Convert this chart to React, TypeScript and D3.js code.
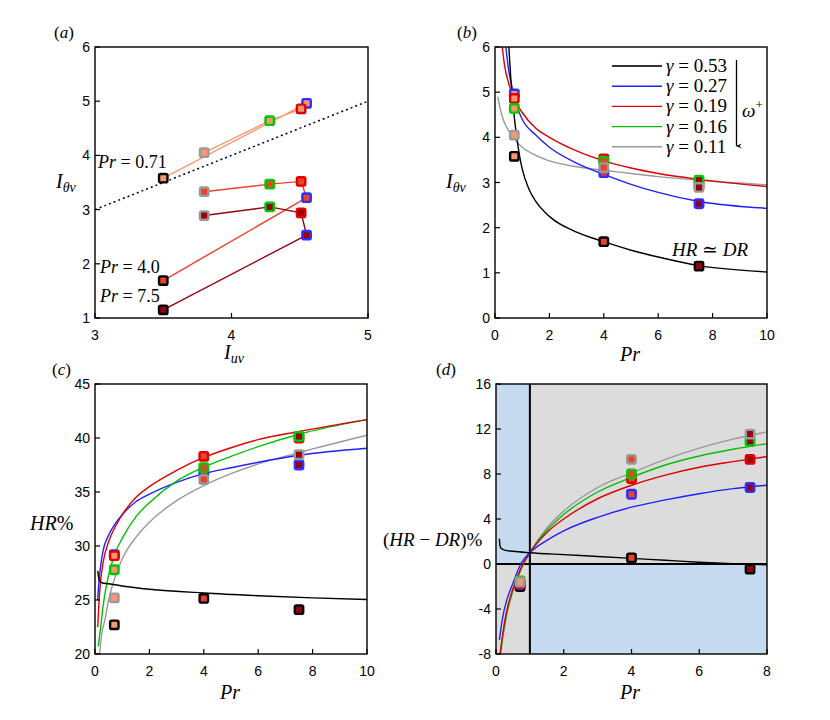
import React from 'react';
import * as d3 from 'd3';

// ---------- data ----------
const GAMMA_LABELS = ['0.53', '0.27', '0.19', '0.16', '0.11'];
const PR_VALUES = [0.71, 4.0, 7.5];
const PR_LABELS = ['0.71', '4.0', '7.5'];

// I_uv per gamma (0.53, 0.27, 0.19, 0.16, 0.11)
const IUV = [3.5, 4.55, 4.51, 4.28, 3.8];

// I_theta_v per gamma at Pr = 0.71, 4.0, 7.5
const ITV_053 = [3.58, 1.69, 1.15];
const ITV_027 = [4.96, 3.22, 2.53];
const ITV_019 = [4.86, 3.52, 2.94];
const ITV_016 = [4.64, 3.47, 3.05];
const ITV_011 = [4.05, 3.33, 2.89];

// HR% per gamma at Pr = 0.71, 4.0, 7.5
const HR_053 = [22.7, 25.15, 24.1];
const HR_027 = [29.2, 36.8, 37.5];
const HR_019 = [29.1, 38.3, 40.0];
const HR_016 = [27.8, 37.25, 40.15];
const HR_011 = [25.2, 36.15, 38.45];

// (HR-DR)% per gamma at Pr = 0.71, 4.0, 7.5
const HD_053 = [-2.0, 0.55, -0.45];
const HD_027 = [-1.8, 6.2, 6.8];
const HD_019 = [-1.75, 7.6, 9.3];
const HD_016 = [-1.5, 8.0, 10.9];
const HD_011 = [-1.6, 9.3, 11.55];

// fitted curves, panel (b)
const B_BLACK_PR = [0.5, 0.6, 0.7, 0.8, 0.9, 1.0, 1.25, 1.5, 2, 3, 4, 5, 6, 7.5, 10];
const B_BLACK_V = [6.1, 5.15, 4.5, 4.0, 3.6, 3.3, 2.85, 2.58, 2.25, 1.9, 1.69, 1.5, 1.35, 1.16, 1.02];
const B_BLUE_PR = [0.38, 0.5, 0.67, 0.8, 1.0, 1.5, 2, 3, 4, 5, 6, 7.5, 10];
const B_BLUE_V = [6.1, 5.5, 5.0, 4.7, 4.4, 4.05, 3.78, 3.43, 3.18, 2.96, 2.78, 2.58, 2.43];
const B_RED_PR = [0.25, 0.35, 0.5, 0.71, 1, 1.5, 2, 3, 4, 5, 6, 7.5, 10];
const B_RED_V = [6.1, 5.6, 5.2, 4.85, 4.55, 4.2, 4.0, 3.7, 3.48, 3.32, 3.2, 3.07, 2.91];
const B_GRAY_PR = [0.1, 0.2, 0.3, 0.5, 0.7, 1, 1.5, 2, 3, 4, 5, 6, 7.5, 10];
const B_GRAY_V = [4.9, 4.62, 4.4, 4.15, 3.97, 3.78, 3.6, 3.48, 3.35, 3.27, 3.2, 3.13, 3.05, 2.95];

// fitted curves, panel (c)
const C_BLACK_PR = [0.1, 0.14, 0.2, 0.25, 0.5, 1, 2, 4, 6, 8, 10];
const C_BLACK_V = [27.7, 27.0, 26.7, 26.6, 26.5, 26.3, 26.0, 25.65, 25.4, 25.2, 25.05];
const C_BLUE_PR = [0.1, 0.15, 0.2, 0.3, 0.5, 0.75, 1, 1.5, 2, 3, 4, 5, 6, 7.5, 10];
const C_BLUE_V = [25.0, 26.9, 28.0, 29.6, 31.0, 32.1, 32.9, 34.1, 34.8, 35.9, 36.7, 37.25, 37.75, 38.4, 39.05];
const C_RED_PR = [0.1, 0.15, 0.2, 0.3, 0.5, 0.75, 1, 1.5, 2, 3, 4, 5, 6, 7.5, 10];
const C_RED_V = [22.5, 25.0, 26.6, 28.5, 30.4, 31.8, 32.9, 34.5, 35.5, 37.0, 38.2, 39.1, 39.85, 40.6, 41.7];
const C_GREEN_PR = [0.12, 0.2, 0.3, 0.5, 0.75, 1, 1.5, 2, 3, 4, 5, 6, 7.5, 10];
const C_GREEN_V = [20.7, 22.3, 24.5, 27.3, 29.4, 30.7, 32.7, 34.0, 36.0, 37.3, 38.3, 39.2, 40.35, 41.7];
const C_GRAY_PR = [0.17, 0.25, 0.37, 0.5, 0.75, 1, 1.5, 2, 3, 4, 5, 6, 7.5, 10];
const C_GRAY_V = [20.0, 21.9, 23.2, 25.0, 27.2, 28.8, 30.8, 32.2, 34.2, 35.6, 36.7, 37.6, 38.65, 40.25];

// fitted curves, panel (d)
const D_BLACK_PR = [0.1, 0.11, 0.13, 0.17, 0.25, 0.5, 1, 2, 3, 4, 5, 6, 7, 8];
const D_BLACK_V = [2.25, 1.8, 1.5, 1.35, 1.24, 1.13, 1.0, 0.83, 0.67, 0.5, 0.33, 0.16, 0.03, -0.07];
const D_BLUE_PR = [0.1, 0.2, 0.3, 0.5, 0.75, 1, 1.5, 2, 3, 4, 5, 6, 7, 8];
const D_BLUE_V = [-6.75, -4.7, -3.4, -1.7, 0.1, 1.0, 2.1, 2.95, 4.15, 5.05, 5.7, 6.25, 6.7, 7.0];
const D_RED_PR = [0.12, 0.2, 0.3, 0.5, 0.75, 1, 1.5, 2, 3, 4, 5, 6, 7, 8];
const D_RED_V = [-8.0, -6.2, -4.4, -2.2, -0.3, 1.0, 2.8, 4.0, 5.8, 7.0, 7.9, 8.6, 9.1, 9.55];
const D_GREEN_PR = [0.13, 0.2, 0.3, 0.5, 0.75, 1, 1.5, 2, 3, 4, 5, 6, 7, 8];
const D_GREEN_V = [-8.0, -6.4, -4.6, -2.3, -0.35, 1.0, 3.0, 4.4, 6.4, 7.7, 8.8, 9.6, 10.2, 10.7];
const D_GRAY_PR = [0.14, 0.2, 0.3, 0.5, 0.75, 1, 1.5, 2, 3, 4, 5, 6, 7, 8];
const D_GRAY_V = [-8.0, -6.6, -4.8, -2.4, -0.4, 1.0, 3.2, 4.7, 6.8, 8.1, 9.3, 10.3, 11.1, 11.75];

// ticks
const A_XTICKS = [3, 4, 5];
const A_YTICKS = [1, 2, 3, 4, 5, 6];
const B_XTICKS = [0, 2, 4, 6, 8, 10];
const B_YTICKS = [0, 1, 2, 3, 4, 5, 6];
const C_XTICKS = [0, 2, 4, 6, 8, 10];
const C_YTICKS = [20, 25, 30, 35, 40, 45];
const D_XTICKS = [0, 2, 4, 6, 8];
const D_YTICKS = [-8, -4, 0, 4, 8, 12, 16];

// ---------- style ----------
const EDGE_COLORS = ['#000000', '#2f2fff', '#e00000', '#00c800', '#9a9a9a'];
const CURVE_COLORS = ['#000000', '#2020ff', '#dd0000', '#00c000', '#999999'];
const PR_FILLS = ['#fa9673', '#ec412d', '#98000f'];

type Box = { l: number; r: number; t: number; b: number };
type Lin = d3.ScaleLinear<number, number>;

const ITV = [ITV_053, ITV_027, ITV_019, ITV_016, ITV_011];
const HR = [HR_053, HR_027, HR_019, HR_016, HR_011];
const HD = [HD_053, HD_027, HD_019, HD_016, HD_011];

const serifStyle: React.CSSProperties = { fontFamily: "'Liberation Serif', 'DejaVu Serif', serif" };
const sansStyle: React.CSSProperties = { fontFamily: "'Liberation Sans', Arial, sans-serif" };

function zip(xs: number[], ys: number[]): [number, number][] {
  return xs.map((x, i) => [x, ys[i]] as [number, number]);
}

function Axes({ box, x, y, xticks, yticks }: { box: Box; x: Lin; y: Lin; xticks: number[]; yticks: number[] }) {
  const tl = 5;
  return (
    <g>
      <rect x={box.l} y={box.t} width={box.r - box.l} height={box.b - box.t} fill="none" stroke="#000" strokeWidth={1.4} />
      {xticks.map((v) => (
        <g key={'x' + v}>
          <line x1={x(v)} x2={x(v)} y1={box.b} y2={box.b - tl} stroke="#000" strokeWidth={1.2} />
          <text x={x(v)} y={box.b + 22} textAnchor="middle" style={sansStyle} fontSize={14} fill="#000">{String(v)}</text>
        </g>
      ))}
      {yticks.map((v) => (
        <g key={'y' + v}>
          <line x1={box.l} x2={box.l + tl} y1={y(v)} y2={y(v)} stroke="#000" strokeWidth={1.2} />
          <text x={box.l - 5} y={y(v) + 5} textAnchor="end" style={sansStyle} fontSize={14} fill="#000">{String(v)}</text>
        </g>
      ))}
    </g>
  );
}

function Marker({ cx, cy, edge, fill }: { cx: number; cy: number; edge: string; fill: string }) {
  const s = 8.4;
  return <rect x={cx - s / 2} y={cy - s / 2} width={s} height={s} rx={1.6} fill={fill} stroke={edge} strokeWidth={2.4} />;
}

function Curve({ x, y, xs, ys, color, width = 1.4 }: { x: Lin; y: Lin; xs: number[]; ys: number[]; color: string; width?: number }) {
  const gen = d3.line<[number, number]>().x((d) => x(d[0])).y((d) => y(d[1])).curve(d3.curveMonotoneX);
  return <path d={gen(zip(xs, ys)) || ''} fill="none" stroke={color} strokeWidth={width} />;
}

function PanelLabel({ x, y, letter }: { x: number; y: number; letter: string }) {
  return (
    <text x={x} y={y} style={serifStyle} fontSize={17} fill="#000">
      (<tspan fontStyle="italic">{letter}</tspan>)
    </text>
  );
}

function Clip({ id, box }: { id: string; box: Box }) {
  return (
    <clipPath id={id}>
      <rect x={box.l} y={box.t} width={box.r - box.l} height={box.b - box.t} />
    </clipPath>
  );
}

export default function App() {
  const boxA: Box = { l: 95, r: 368, t: 47, b: 318 };
  const boxB: Box = { l: 495, r: 767, t: 47, b: 318 };
  const boxC: Box = { l: 95, r: 367, t: 384, b: 654 };
  const boxD: Box = { l: 496, r: 767, t: 384, b: 654 };

  const xA = d3.scaleLinear().domain([3, 5]).range([boxA.l, boxA.r]);
  const yA = d3.scaleLinear().domain([1, 6]).range([boxA.b, boxA.t]);
  const xB = d3.scaleLinear().domain([0, 10]).range([boxB.l, boxB.r]);
  const yB = d3.scaleLinear().domain([0, 6]).range([boxB.b, boxB.t]);
  const xC = d3.scaleLinear().domain([0, 10]).range([boxC.l, boxC.r]);
  const yC = d3.scaleLinear().domain([20, 45]).range([boxC.b, boxC.t]);
  const xD = d3.scaleLinear().domain([0, 8]).range([boxD.l, boxD.r]);
  const yD = d3.scaleLinear().domain([-8, 16]).range([boxD.b, boxD.t]);

  const gOrder = [0, 1, 2, 3, 4];
  const lineA = d3.line<[number, number]>().x((d) => xA(d[0])).y((d) => yA(d[1]));

  const scatter = (x: Lin, y: Lin, vals: number[][]) =>
    gOrder.map((g) =>
      PR_VALUES.map((pr, p) => (
        <Marker key={g + '-' + p} cx={x(pr)} cy={y(vals[g][p])} edge={EDGE_COLORS[g]} fill={PR_FILLS[p]} />
      ))
    );

  const legendRows = GAMMA_LABELS.map((lab, i) => ({ lab, i }));

  return (
    <svg width={830} height={720} viewBox="0 0 830 720" style={{ position: 'absolute', left: 0, top: 0, background: '#fff' }}>
      <defs>
        <Clip id="clipA" box={boxA} />
        <Clip id="clipB" box={boxB} />
        <Clip id="clipC" box={boxC} />
        <Clip id="clipD" box={boxD} />
        <marker id="arrowHead" viewBox="0 0 10 10" refX={5} refY={9} markerWidth={6} markerHeight={10} orient="auto-start-reverse" markerUnits="userSpaceOnUse">
          <path d="M1,0 L5,10 L9,0 L5,4 Z" fill="#000" />
        </marker>
      </defs>
      <rect x={0} y={0} width={830} height={720} fill="#fff" />

      {/* ---------------- panel (a) ---------------- */}
      <g clipPath="url(#clipA)">
        <line x1={xA(3)} y1={yA(3)} x2={xA(5)} y2={yA(5)} stroke="#000" strokeWidth={1.5} strokeDasharray="2,3" />
        {PR_VALUES.map((pr, p) => (
          <path key={'la' + p} d={lineA(gOrder.map((g) => [IUV[g], ITV[g][p]] as [number, number])) || ''} fill="none" stroke={PR_FILLS[p]} strokeWidth={1.4} />
        ))}
        {gOrder.map((g) =>
          PR_VALUES.map((pr, p) => (
            <Marker key={'ma' + g + p} cx={xA(IUV[g])} cy={yA(ITV[g][p])} edge={EDGE_COLORS[g]} fill={PR_FILLS[p]} />
          ))
        )}
      </g>
      <Axes box={boxA} x={xA} y={yA} xticks={A_XTICKS} yticks={A_YTICKS} />
      <text x={98} y={168} style={serifStyle} fontSize={18} fill="#000">
        <tspan fontStyle="italic">Pr</tspan> = {PR_LABELS[0]}
      </text>
      <text x={100} y={273} style={serifStyle} fontSize={18} fill="#000">
        <tspan fontStyle="italic">Pr</tspan> = {PR_LABELS[1]}
      </text>
      <text x={100} y={302} style={serifStyle} fontSize={18} fill="#000">
        <tspan fontStyle="italic">Pr</tspan> = {PR_LABELS[2]}
      </text>
      <PanelLabel x={54} y={38} letter="a" />
      <text x={224} y={359} style={serifStyle} fontSize={20} fontStyle="italic" fill="#000">
        I<tspan fontSize={14} dy={4}>uv</tspan>
      </text>
      <text x={56} y={188} style={serifStyle} fontSize={20} fontStyle="italic" fill="#000">
        I<tspan fontSize={14} dy={4}>θv</tspan>
      </text>

      {/* ---------------- panel (b) ---------------- */}
      <g clipPath="url(#clipB)">
        <Curve x={xB} y={yB} xs={B_GRAY_PR} ys={B_GRAY_V} color={CURVE_COLORS[4]} />
        <Curve x={xB} y={yB} xs={B_BLUE_PR} ys={B_BLUE_V} color={CURVE_COLORS[1]} />
        <Curve x={xB} y={yB} xs={B_RED_PR} ys={B_RED_V} color={CURVE_COLORS[2]} />
        <Curve x={xB} y={yB} xs={B_BLACK_PR} ys={B_BLACK_V} color={CURVE_COLORS[0]} />
        {scatter(xB, yB, ITV)}
      </g>
      <Axes box={boxB} x={xB} y={yB} xticks={B_XTICKS} yticks={B_YTICKS} />
      {legendRows.map(({ lab, i }) => (
        <g key={'lg' + i}>
          <line x1={612} x2={662} y1={66 + i * 20.2} y2={66 + i * 20.2} stroke={i === 0 ? '#333' : CURVE_COLORS[i]} strokeWidth={i === 0 ? 2 : 1.4} />
          <text x={666} y={72 + i * 20.2} style={serifStyle} fontSize={19} fill="#000">
            <tspan fontStyle="italic">γ</tspan> = {lab}
          </text>
        </g>
      ))}
      <line x1={736.5} x2={736.5} y1={60} y2={146} stroke="#000" strokeWidth={1.3} markerEnd="url(#arrowHead)" />
      <text x={742} y={117} style={serifStyle} fontSize={19} fill="#000">
        <tspan fontStyle="italic">ω</tspan>
        <tspan fontSize={13} dy={-8}>+</tspan>
      </text>
      <text x={672} y={256} style={serifStyle} fontSize={19} fill="#000">
        <tspan fontStyle="italic">HR</tspan> ≃ <tspan fontStyle="italic">DR</tspan>
      </text>
      <PanelLabel x={457} y={38} letter="b" />
      <text x={620} y={361} style={serifStyle} fontSize={20} fontStyle="italic" fill="#000">Pr</text>
      <text x={446} y={188} style={serifStyle} fontSize={20} fontStyle="italic" fill="#000">
        I<tspan fontSize={14} dy={4}>θv</tspan>
      </text>

      {/* ---------------- panel (c) ---------------- */}
      <g clipPath="url(#clipC)">
        <Curve x={xC} y={yC} xs={C_GRAY_PR} ys={C_GRAY_V} color={CURVE_COLORS[4]} />
        <Curve x={xC} y={yC} xs={C_BLUE_PR} ys={C_BLUE_V} color={CURVE_COLORS[1]} />
        <Curve x={xC} y={yC} xs={C_GREEN_PR} ys={C_GREEN_V} color={CURVE_COLORS[3]} />
        <Curve x={xC} y={yC} xs={C_RED_PR} ys={C_RED_V} color={CURVE_COLORS[2]} />
        <Curve x={xC} y={yC} xs={C_BLACK_PR} ys={C_BLACK_V} color={CURVE_COLORS[0]} />
        {scatter(xC, yC, HR)}
      </g>
      <Axes box={boxC} x={xC} y={yC} xticks={C_XTICKS} yticks={C_YTICKS} />
      <PanelLabel x={52} y={375} letter="c" />
      <text x={220} y={699} style={serifStyle} fontSize={20} fontStyle="italic" fill="#000">Pr</text>
      <text x={30} y={530} style={serifStyle} fontSize={20} fill="#000">
        <tspan fontStyle="italic">HR</tspan>%
      </text>

      {/* ---------------- panel (d) ---------------- */}
      <g clipPath="url(#clipD)">
        <rect x={xD(0)} y={yD(16)} width={xD(1) - xD(0)} height={yD(0) - yD(16)} fill="#c6dbef" />
        <rect x={xD(1)} y={yD(16)} width={xD(8) - xD(1)} height={yD(0) - yD(16)} fill="#dcdcdc" />
        <rect x={xD(0)} y={yD(0)} width={xD(1) - xD(0)} height={yD(-8) - yD(0)} fill="#dcdcdc" />
        <rect x={xD(1)} y={yD(0)} width={xD(8) - xD(1)} height={yD(-8) - yD(0)} fill="#c6dbef" />
        <line x1={xD(1)} x2={xD(1)} y1={yD(16)} y2={yD(-8)} stroke="#000" strokeWidth={2} />
        <line x1={xD(0)} x2={xD(8)} y1={yD(0)} y2={yD(0)} stroke="#000" strokeWidth={2} />
        <Curve x={xD} y={yD} xs={D_GRAY_PR} ys={D_GRAY_V} color={CURVE_COLORS[4]} />
        <Curve x={xD} y={yD} xs={D_GREEN_PR} ys={D_GREEN_V} color={CURVE_COLORS[3]} />
        <Curve x={xD} y={yD} xs={D_RED_PR} ys={D_RED_V} color={CURVE_COLORS[2]} />
        <Curve x={xD} y={yD} xs={D_BLUE_PR} ys={D_BLUE_V} color={CURVE_COLORS[1]} />
        <Curve x={xD} y={yD} xs={D_BLACK_PR} ys={D_BLACK_V} color={CURVE_COLORS[0]} />
        {scatter(xD, yD, HD)}
      </g>
      <Axes box={boxD} x={xD} y={yD} xticks={D_XTICKS} yticks={D_YTICKS} />
      <PanelLabel x={436} y={375} letter="d" />
      <text x={620} y={699} style={serifStyle} fontSize={20} fontStyle="italic" fill="#000">Pr</text>
      <text x={383} y={546} style={serifStyle} fontSize={19} fill="#000">
        (<tspan fontStyle="italic">HR</tspan> − <tspan fontStyle="italic">DR</tspan>)%
      </text>
    </svg>
  );
}
